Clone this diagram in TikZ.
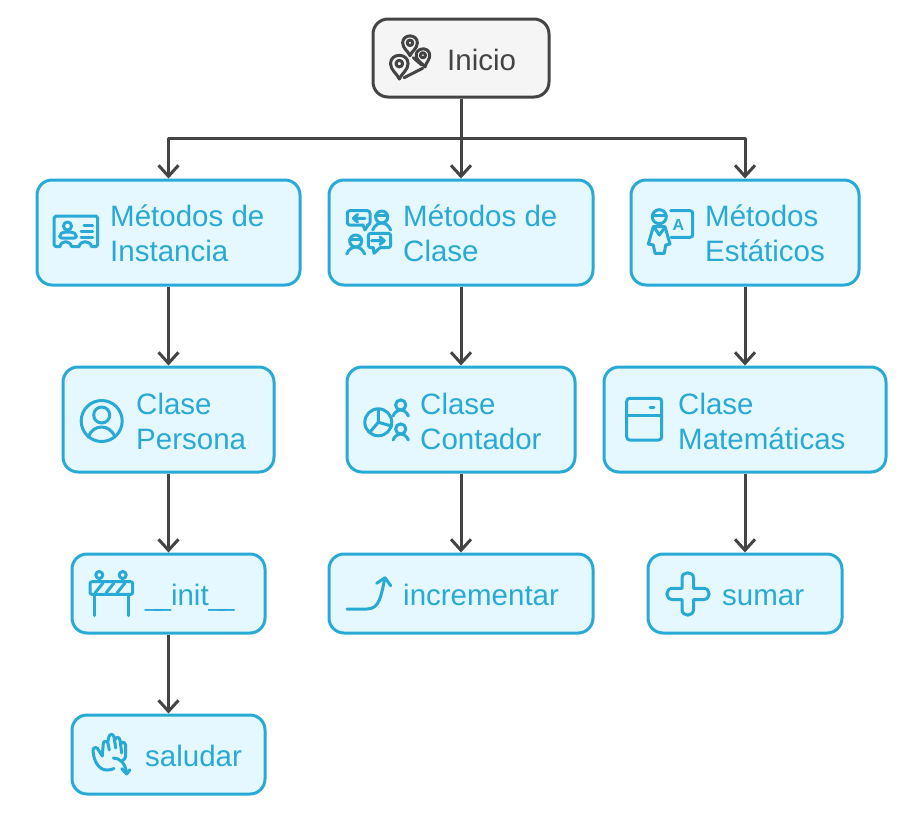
\documentclass[tikz,border=0pt]{standalone}
\usepackage{fontspec}
\setmainfont{Liberation Sans}
\usetikzlibrary{arrows.meta}
\definecolor{boxline}{HTML}{29A9D6}
\definecolor{boxfill}{HTML}{E5F8FF}
\definecolor{darkline}{HTML}{444444}
\definecolor{startfill}{HTML}{F5F5F5}
\tikzset{
box/.style={draw=boxline,fill=boxfill,line width=3pt,rounded corners=15pt,inner sep=0pt,minimum height=105pt},
lowbox/.style={box,minimum height=79pt},
startbox/.style={box,draw=darkline,fill=startfill,minimum height=78pt},
lbl/.style={text=boxline,font=\fontsize{29.5}{35}\selectfont,align=left,inner sep=0pt,anchor=west},
lbl1/.style={lbl,anchor=base west},
flow/.style={draw=darkline,line width=3pt,line join=round,-{Straight Barb[length=11pt,width=20pt,line width=3pt]}},
icon/.style={draw=boxline,line width=3pt,line cap=round,line join=round},
darkicon/.style={icon,draw=darkline},
pics/mappin/.style={code={
\draw[darkicon](0,0)..controls(-2,-5)and(-8,-8)..(-8,-14)..controls(-8,-24)and(8,-24)..(8,-14)..controls(8,-8)and(2,-5)..cycle;
\draw[darkicon](0,-14)circle(3pt);
}},
pics/buddy/.style={code={
\draw[icon](0,-13)circle(6pt);
\draw[icon](-9,0)..controls(-7,-5)and(-3,-7)..(0,-7)..controls(3,-7)and(7,-5)..(9,0);
}}
}
\begin{document}
\begin{tikzpicture}[x=1pt,y=-1pt]
\useasboundingbox(0,0)rectangle(922,831);
% boxes
\node[startbox,minimum width=176pt](inicio)at(461,58){};
\node[box,minimum width=263pt](instancia)at(168.5,232.5){};
\node[box,minimum width=264pt](clase)at(461,232.5){};
\node[box,minimum width=228pt](estaticos)at(745,232.5){};
\node[box,minimum width=211pt](persona)at(168.5,419.5){};
\node[box,minimum width=228pt](contador)at(461,419.5){};
\node[box,minimum width=282pt](matematicas)at(745,419.5){};
\node[lowbox,minimum width=193pt](init)at(168.5,593.5){};
\node[lowbox,minimum width=264pt](incrementar)at(461,593.5){};
\node[lowbox,minimum width=194pt](sumar)at(745,593.5){};
\node[lowbox,minimum width=193pt](saludar)at(168.5,754.5){};
% connectors
\coordinate(bus)at(461,138);
\draw[flow](inicio.south)--(bus)-|(instancia.north);
\draw[flow](inicio.south)--(clase.north);
\draw[flow](bus)-|(estaticos.north);
\foreach \a/\b in {instancia/persona,persona/init,init/saludar,clase/contador,contador/incrementar,estaticos/matematicas,matematicas/sumar}
\draw[flow](\a.south)--(\b.north);
% labels
\node[lbl1,text=darkline](tinicio)at(447,70){Inicio};
\node[lbl](tinstancia)at(110,233){Métodos de\\Instancia};
\node[lbl](tclase)at(403,233){Métodos de\\Clase};
\node[lbl](testaticos)at(705,233){Métodos\\Estáticos};
\node[lbl](tpersona)at(136,421){Clase\\Persona};
\node[lbl](tcontador)at(420,421){Clase\\Contador};
\node[lbl](tmatematicas)at(678,421){Clase\\Matemáticas};
\node[lbl1](tinit)at(145,605){\_\kern-7pt\_init\_\kern-7pt\_};
\node[lbl1](tincrementar)at(403,605){incrementar};
\node[lbl1](tsumar)at(722,605){sumar};
\node[lbl1](tsaludar)at(145,766){saludar};
% icon inicio
\pic[scale=.92]at(410,55.7){mappin};
\pic[scale=1.1]at(399.3,79){mappin};
\pic[scale=.85,rotate=10]at(425,67){mappin};
\draw[darkicon](413.3,57.7)--(421.7,65)(404,77.7)--(422.7,68.3);
% icon instancia
\draw[icon](60,246.7)--(56,246.7)--(54,244.7)--(54,218)--(56,216)--(96,216)--(97.7,218)--(97.7,244.7)--(96,246.7)--(91.7,246.7)..controls(90,240)and(80,240)..(79,246.7)--(71.7,246.7)..controls(70,240)and(61,240)..(60,246.7);
\draw[icon](67.5,226)circle(4pt);
\draw[icon,rounded corners=2pt](59.7,238)--(59.7,234.5)--(63,232)--(73,232)--(76.3,234.5)--(76.3,238)--cycle;
\draw[icon](84,225.7)--(92.7,225.7)(81,231.7)--(92.7,231.7)(81,237.3)--(92.7,237.3);
% icon clase
\draw[icon,rounded corners=2.5pt](363,225)--(347.3,225)--(347.3,210.7)--(370,210.7)--(370,225)--(368,225);
\draw[icon](363,225)--(365,230)--(368,225);
\draw[icon](365,218.3)--(353.3,218.3)(357.5,214.5)--(353.3,218.3)--(357.5,222);
\pic at(381.7,230){buddy};
\pic at(355.7,254){buddy};
\draw[icon](375.5,215.5)--(387.5,215.5)(349.5,239.5)--(361.5,239.5);
\draw[icon,rounded corners=2.5pt](373.3,247.7)--(368.3,247.7)--(368.3,233.3)--(390.7,233.3)--(390.7,247.7)--(380,247.7);
\draw[icon](373.3,247.7)--(374,253.3)--(380,247.7);
\draw[icon](371.7,240.7)--(384.3,240.7)(380,237)--(384.3,240.7)--(380,244.5);
% icon estaticos
\draw[icon,rounded corners=2.5pt](670.7,210.7)--(692.7,210.7)--(692.7,237.3)--(671,237.3);
\node[text=boxline,font=\fontsize{16}{16}\bfseries\selectfont,inner sep=0pt](tletra)at(678.5,225){A};
\draw[icon](659.3,216.7)circle(7pt);
\draw[icon](652.5,215.5)--(666,215.5);
\draw[icon](653.3,226.7)--(648.3,244)--(653.3,245)--(655,253.3)--(664.3,253.3)--(665.7,245)--(670,244)--(665,226.7)--cycle;
\draw[icon](655,228.3)--(659.3,235)--(664.3,228.3);
% icon persona
\draw[icon](101.7,421)circle(20.5pt);
\draw[icon](101.7,415)circle(8pt);
\draw[icon](88.3,437)..controls(91,430)and(96,427)..(101.7,427)..controls(107,427)and(112,430)..(115,437);
% icon contador
\draw[icon](378.3,422.3)circle(13.5pt);
\draw[icon](378.3,409)--(378.3,422.3)--(391.5,426)(378.3,422.3)--(370,432);
\pic[scale=.85]at(400.7,416){buddy};
\pic[scale=.85]at(400.7,440){buddy};
% icon matematicas
\draw[icon,rounded corners=3pt](626.7,398.3)rectangle(661.7,440);
\draw[icon](626.7,415)--(661.7,415)(650,407.3)--(654,407.3);
% icon init
\draw[icon,rounded corners=2pt](90,581.7)rectangle(132.7,594.3);
\draw[icon](99.3,575)circle(3.5pt)(122.7,575)circle(3.5pt);
\draw[icon](99.3,578.5)--(99.3,581.7)(122.7,578.5)--(122.7,581.7);
\draw[icon](94,594.3)--(94,615.7)(128.3,594.3)--(128.3,615.7);
\draw[icon](95,593)--(103,583)(106,593)--(114,583)(117,593)--(125,583);
% icon incrementar
\draw[icon](347,609)--(367,609)..controls(380,609)and(381,595)..(385,578);
\draw[icon](376.7,583.3)--(385,577.7)--(390.7,585.7);
% icon sumar
\draw[icon](682,588.3)--(682,578)..controls(682,571)and(693.5,571)..(693.5,578)--(693.5,588.3)--(703.5,588.3)..controls(711,588.3)and(711,599.5)..(703.5,599.5)--(693.5,599.5)--(693.5,609.5)..controls(693.5,617)and(682,617)..(682,609.5)--(682,599.5)--(672.5,599.5)..controls(665,599.5)and(665,588.3)..(672.5,588.3)--cycle;
% icon saludar
\draw[icon](102.3,756)--(97.5,748.5)..controls(96,746.5)and(92,748)..(93,751)..controls(94,762)and(99,770)..(107,770)..controls(110,770)and(112,769.5)..(114,768.5);
\draw[icon](102.3,756)--(103.3,743.5)..controls(103.5,740.5)and(107.5,740.5)..(108,743.5)--(109.3,750);
\draw[icon](107.8,742)--(108.8,737)..controls(109.5,733.5)and(113.5,733.5)..(114,737)--(115.7,748);
\draw[icon](114.8,740)..controls(115.5,736.5)and(119.5,736.5)..(120,740)--(121.7,753);
\draw[icon](120.6,745)..controls(121,741)and(125,741.5)..(125.5,745)--(125.7,756)..controls(125.7,758)and(124,760)..(122.5,760.5);
\draw[icon](113.3,758)..controls(120,758)and(125,763)..(126.7,773);
\draw[icon](121.7,768.7)--(126.7,774)--(130,769.7);
\end{tikzpicture}
\end{document}
